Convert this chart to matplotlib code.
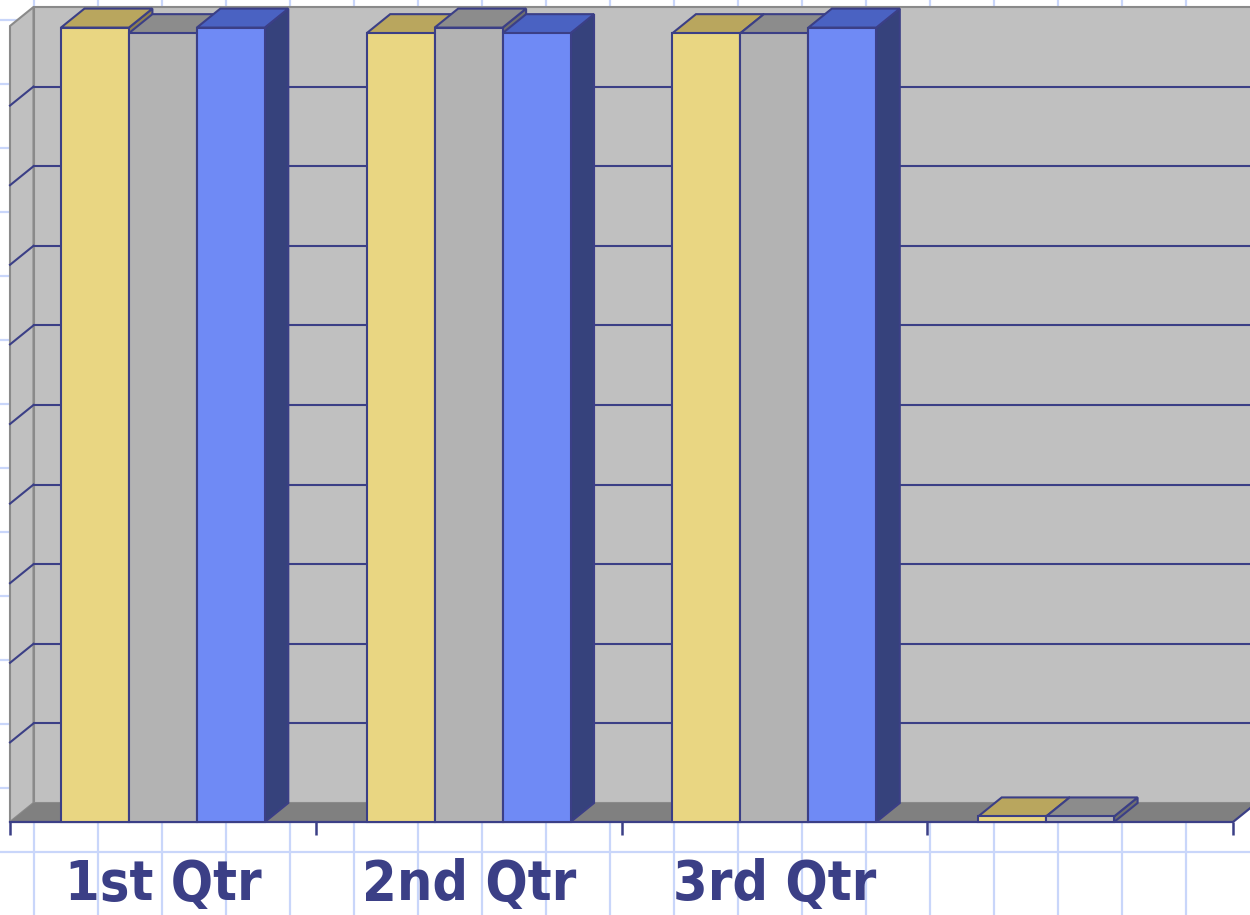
import matplotlib
matplotlib.use("Agg")
import matplotlib.pyplot as plt
from matplotlib.patches import Polygon, Rectangle

# Chart data
category_labels = ["1st Qtr", "2nd Qtr", "3rd Qtr", ""]
east = [99.8, 99.1, 99.1, 0.7]
west = [99.1, 99.8, 99.1, 0.7]
north = [99.8, 99.1, 99.8, 0.0]
series = [east, west, north]

# Face colours for each series: front, top, side
front_colors = ["#E9D682", "#B3B3B3", "#6F8AF5"]
top_colors = ["#B9A65E", "#8C8C8C", "#4A62C2"]
side_colors = ["#8F8150", "#707070", "#36427C"]

NAVY = "#3B3F86"
WALL = "#C0C0C0"
FLOOR = "#808080"
WALL_EDGE = "#8A8A8A"
SHEET_GRID = "#C9D6FA"

W, H = 1250, 915
fig = plt.figure(figsize=(W / 100, H / 100), dpi=100)
fig.patch.set_facecolor("white")

# Worksheet cell grid behind the chart
bg = fig.add_axes([0, 0, 1, 1])
bg.set_xlim(0, W)
bg.set_ylim(H, 0)
bg.axis("off")
for x in range(34, W, 64):
    bg.axvline(x, color=SHEET_GRID, lw=1.6, zorder=0)
for y in range(20, H, 64):
    bg.axhline(y, color=SHEET_GRID, lw=1.6, zorder=0)

# Front plane of the 3-D plot area
ncat = len(category_labels)
ymax = 100.0
ax = fig.add_axes([10 / W, (H - 822) / H, 1223 / W, 796 / H])
ax.set_xlim(0, ncat)
ax.set_ylim(0, ymax)
ax.axis("off")
ax.patch.set_visible(False)

# depth offset of the back plane, in data units
px_x = 1223 / ncat
px_y = 796 / ymax
DX = 23.5 / px_x
DY = 19.0 / px_y

def poly(pts, fc, ec="none", lw=0.0, z=1):
    p = Polygon(pts, closed=True, facecolor=fc, edgecolor=ec, lw=lw,
                joinstyle="miter", clip_on=False, zorder=z)
    ax.add_patch(p)

# walls and floor
poly([(DX, DY), (ncat + DX, DY), (ncat + DX, ymax + DY), (DX, ymax + DY)], WALL, WALL_EDGE, 1.5, 1)
poly([(0, 0), (DX, DY), (DX, ymax + DY), (0, ymax)], WALL, WALL_EDGE, 1.5, 1)
poly([(0, 0), (ncat, 0), (ncat + DX, DY), (DX, DY)], FLOOR, "none", 0, 1.5)

# value gridlines on the back and side walls
for v in range(10, 100, 10):
    ax.plot([DX, ncat + DX], [v + DY, v + DY], color=NAVY, lw=1.5, zorder=2, clip_on=False)
    ax.plot([0, DX], [v, v + DY], color=NAVY, lw=1.5, zorder=2, clip_on=False)

# floor edges and category ticks
ax.plot([0, ncat, ncat + DX], [0, 0, DY], color=NAVY, lw=1.6, zorder=3, clip_on=False)
ax.plot(range(ncat + 1), [0] * (ncat + 1), ls="none", marker=3, markersize=9.5,
        markeredgewidth=1.8, color=NAVY, zorder=3, clip_on=False)

# 3-D columns
n = len(series)
bw = 1.0 / (n + 1.5)
gap = 0.75 * bw
z = 4
for i in range(ncat):
    for j, vals in enumerate(series):
        v = vals[i]
        if v <= 0:
            continue
        x0 = i + gap + j * bw
        x1 = x0 + bw
        poly([(x1, 0), (x1 + DX, DY), (x1 + DX, v + DY), (x1, v)], side_colors[j], NAVY, 1.5, z)
        poly([(x0, v), (x1, v), (x1 + DX, v + DY), (x0 + DX, v + DY)], top_colors[j], NAVY, 1.5, z)
        ax.add_patch(Rectangle((x0, 0), bw, v, facecolor=front_colors[j], edgecolor=NAVY,
                               lw=1.5, joinstyle="miter", clip_on=False, zorder=z))
        z += 1

# category labels
for i, lab in enumerate(category_labels):
    ax.annotate(lab, xy=(i + 0.5, 0), xytext=(0, -78), textcoords="offset pixels",
                ha="center", va="baseline", fontsize=40, fontweight="bold",
                fontfamily="DejaVu Sans", fontstretch="condensed", color=NAVY,
                annotation_clip=False)

fig.savefig("out.png", dpi=100)
